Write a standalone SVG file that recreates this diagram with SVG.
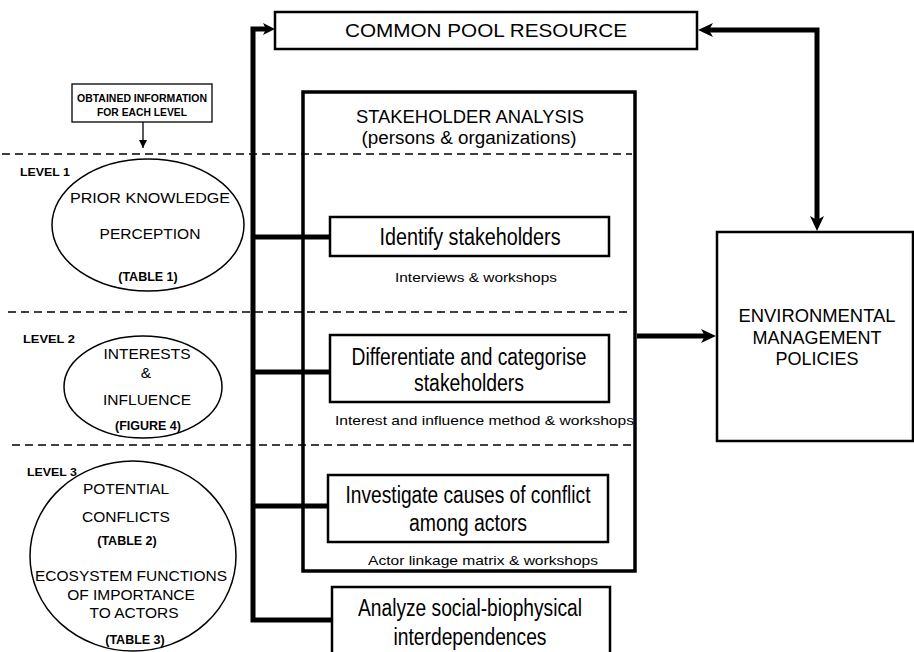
<svg xmlns="http://www.w3.org/2000/svg" width="914" height="652" viewBox="0 0 914 652">
<style>
.box{fill:#fff;stroke:#000;stroke-width:2.5}
.big{fill:none;stroke:#000;stroke-width:3.5}
.dash{stroke:#000;stroke-width:1.6;stroke-dasharray:8,5;fill:none}
.wire{stroke:#000;stroke-width:5;fill:none}
.thin{stroke:#000;stroke-width:1.3;fill:none}
.ell{fill:#fff;stroke:#000;stroke-width:1.5}
text{font-family:"Liberation Sans",Arial,sans-serif;fill:#000}
.lv{font-size:11px;font-weight:bold}
.el{font-size:15.5px;text-anchor:middle}
.tb{font-size:12.5px;font-weight:bold;text-anchor:middle}
.step{font-size:23px;text-anchor:middle}
.meth{font-size:13px}
.cap{font-size:18px;text-anchor:middle}
</style>
<defs>
<marker id="ah" markerUnits="userSpaceOnUse" markerWidth="16" markerHeight="14" refX="6" refY="7" orient="auto-start-reverse">
<path d="M0,0 L15,7 L0,14 L4,7 z" fill="#000"/>
</marker>
<marker id="ahs" markerUnits="userSpaceOnUse" markerWidth="12" markerHeight="12" refX="4" refY="6" orient="auto">
<path d="M0,0 L12,6 L0,12 L3,6 z" fill="#000"/>
</marker>
<marker id="sm" markerUnits="userSpaceOnUse" markerWidth="10" markerHeight="10" refX="8" refY="4" orient="auto">
<path d="M0,0 L8,4 L0,8 z" fill="#000"/>
</marker>
</defs>

<g id="dashes">
<line class="dash" x1="2" y1="154" x2="632" y2="154"/>
<line class="dash" x1="8" y1="312" x2="632" y2="312"/>
<line class="dash" x1="12" y1="445" x2="632" y2="445"/>
</g>

<g id="connectors">
<polyline class="wire" points="332,620 253,620 253,29 267,29" marker-end="url(#ahs)"/>
<line class="wire" x1="253" y1="237" x2="331" y2="237"/>
<line class="wire" x1="253" y1="372" x2="331" y2="372"/>
<line class="wire" x1="253" y1="506" x2="329" y2="506"/>
<polyline class="wire" points="707,30 817,30 817,222" marker-start="url(#ah)" marker-end="url(#ah)"/>
<line class="wire" x1="637" y1="336" x2="707" y2="336" marker-end="url(#ah)"/>
<line class="thin" x1="143" y1="122" x2="143" y2="148" marker-end="url(#sm)"/>
</g>

<g id="common-pool">
<rect class="box" x="275" y="12" width="422" height="37"/>
<text x="486" y="37" font-size="18" text-anchor="middle" textLength="282" lengthAdjust="spacingAndGlyphs">COMMON POOL RESOURCE</text>
</g>

<g id="obtained">
<rect x="72" y="84" width="140" height="38" fill="#fff" stroke="#000" stroke-width="1.3"/>
<text x="142" y="102" font-size="11" font-weight="bold" text-anchor="middle" textLength="130" lengthAdjust="spacingAndGlyphs">OBTAINED INFORMATION</text>
<text x="142" y="116" font-size="11" font-weight="bold" text-anchor="middle" textLength="90" lengthAdjust="spacingAndGlyphs">FOR EACH LEVEL</text>
</g>

<g id="stakeholder-analysis">
<rect class="big" x="303" y="92" width="332" height="479"/>
<text x="470" y="123" font-size="18" text-anchor="middle" textLength="228" lengthAdjust="spacingAndGlyphs">STAKEHOLDER ANALYSIS</text>
<text x="469" y="144" font-size="18" text-anchor="middle" textLength="215" lengthAdjust="spacingAndGlyphs">(persons &amp; organizations)</text>
</g>

<g id="level1">
<text class="lv" x="20" y="176" textLength="50" lengthAdjust="spacingAndGlyphs">LEVEL 1</text>
<ellipse class="ell" cx="148" cy="225" rx="96" ry="66"/>
<text class="el" x="150" y="203" textLength="160" lengthAdjust="spacingAndGlyphs">PRIOR  KNOWLEDGE</text>
<text class="el" x="150" y="239">PERCEPTION</text>
<text class="tb" x="148" y="281">(TABLE 1)</text>
</g>

<g id="identify">
<rect class="box" x="330" y="217" width="279" height="39"/>
<text class="step" x="470" y="245" textLength="181" lengthAdjust="spacingAndGlyphs">Identify  stakeholders</text>
<text class="meth" x="395" y="282" textLength="162" lengthAdjust="spacingAndGlyphs">Interviews &amp; workshops</text>
</g>

<g id="level2">
<text class="lv" x="23" y="343" textLength="52" lengthAdjust="spacingAndGlyphs">LEVEL 2</text>
<ellipse class="ell" cx="143" cy="387" rx="79" ry="51"/>
<text class="el" x="147" y="359" textLength="87" lengthAdjust="spacingAndGlyphs">INTERESTS</text>
<text class="el" x="146" y="378">&amp;</text>
<text class="el" x="147" y="405" textLength="88" lengthAdjust="spacingAndGlyphs">INFLUENCE</text>
<text class="tb" x="148" y="430">(FIGURE 4)</text>
</g>

<g id="differentiate">
<rect class="box" x="330" y="335" width="279" height="67"/>
<text class="step" x="469" y="365" textLength="235" lengthAdjust="spacingAndGlyphs">Differentiate and categorise</text>
<text class="step" x="469" y="391" textLength="110" lengthAdjust="spacingAndGlyphs">stakeholders</text>
<text class="meth" x="335" y="425" textLength="299" lengthAdjust="spacingAndGlyphs">Interest and influence method &amp; workshops</text>
</g>

<g id="level3">
<ellipse class="ell" cx="133" cy="556" rx="103" ry="95"/>
<text class="lv" x="27" y="476" textLength="50" lengthAdjust="spacingAndGlyphs">LEVEL 3</text>
<text class="el" x="126" y="494">POTENTIAL</text>
<text class="el" x="126" y="522">CONFLICTS</text>
<text class="tb" x="127" y="545">(TABLE 2)</text>
<text class="el" x="131" y="581" textLength="192" lengthAdjust="spacingAndGlyphs">ECOSYSTEM FUNCTIONS</text>
<text class="el" x="131" y="600">OF IMPORTANCE</text>
<text class="el" x="134" y="618">TO ACTORS</text>
<text class="tb" x="135" y="644">(TABLE 3)</text>
</g>

<g id="investigate">
<rect class="box" x="328" y="475" width="280" height="67"/>
<text class="step" x="468" y="503" textLength="245" lengthAdjust="spacingAndGlyphs">Investigate causes of conflict</text>
<text class="step" x="468" y="531" textLength="118" lengthAdjust="spacingAndGlyphs">among actors</text>
<text class="meth" x="368" y="565" textLength="230" lengthAdjust="spacingAndGlyphs">Actor linkage matrix  &amp; workshops</text>
</g>

<g id="analyze">
<rect class="box" x="332" y="587" width="278" height="80"/>
<text class="step" x="470" y="616" textLength="224" lengthAdjust="spacingAndGlyphs">Analyze social-biophysical</text>
<text class="step" x="470" y="645" textLength="153" lengthAdjust="spacingAndGlyphs">interdependences</text>
</g>

<g id="env-policies">
<rect class="box" x="717" y="232" width="196" height="209"/>
<text class="cap" x="817" y="322" textLength="157" lengthAdjust="spacingAndGlyphs">ENVIRONMENTAL</text>
<text class="cap" x="817" y="344">MANAGEMENT</text>
<text class="cap" x="817" y="365">POLICIES</text>
</g>
</svg>
